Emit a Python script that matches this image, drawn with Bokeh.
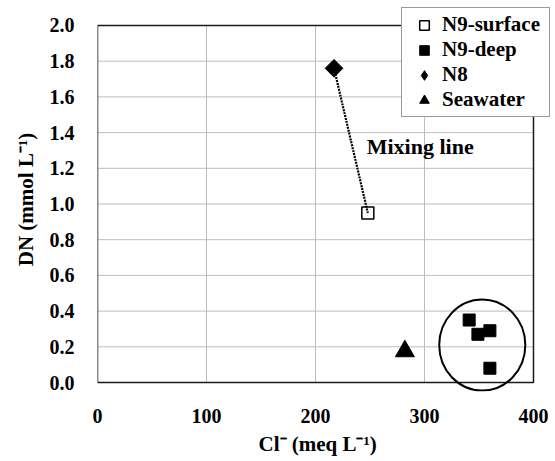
import math
from bokeh.plotting import figure
from bokeh.models import Range1d, FixedTicker, Legend, LegendItem, NumeralTickFormatter, Label, Title
from bokeh.embed import file_html
from bokeh.resources import INLINE

# ---- data ----
surface_cl = [248]
surface_dn = [0.95]
deep_cl = [341, 349, 360, 360]
deep_dn = [0.35, 0.27, 0.29, 0.08]
n8_cl = [217]
n8_dn = [1.76]
sea_cl = [282]
sea_dn = [0.175]
mix_cl = [217, 248]
mix_dn = [1.76, 0.95]
group_cl = [353]
group_dn = [0.21]
group_w = [79]
group_h = [0.51]
x_ticks = [0, 100, 200, 300, 400]
y_ticks = [0.0, 0.2, 0.4, 0.6, 0.8, 1.0, 1.2, 1.4, 1.6, 1.8, 2.0]
x_lim = (0, 400)
y_lim = (0.0, 2.0)
x_title = "Cl\u207b (meq L\u207b\u00b9)"
y_title = "DN (mmol L\u207b\u00b9)"

FONT = "Liberation Serif"

p = figure(width=553, height=460, output_backend="svg", toolbar_location=None,
           x_range=Range1d(0, 415.6), y_range=Range1d(-0.0504, 2.1008),
           min_border_left=97, min_border_right=3, min_border_top=7, min_border_bottom=69)
p.outline_line_color = None
p.grid.grid_line_color = None
p.background_fill_color = "white"
p.border_fill_color = "white"

# grid lines inside the box
hy = y_ticks[1:-1]
p.segment(x0=[x_lim[0]] * len(hy), x1=[x_lim[1]] * len(hy), y0=hy, y1=hy,
          line_color="#bdbdbd", line_width=1)
vx = x_ticks[1:-1]
p.segment(x0=vx, x1=vx, y0=[y_lim[0]] * len(vx), y1=[y_lim[1]] * len(vx),
          line_color="#bdbdbd", line_width=1)
# plot box
p.quad(left=[x_lim[0]], right=[x_lim[1]], bottom=[y_lim[0]], top=[y_lim[1]],
       fill_color=None, line_color="#1a1a1a", line_width=1.5)

# group circle
p.ellipse(x=group_cl, y=group_dn, width=group_w, height=group_h,
          fill_color=None, line_color="black", line_width=2)

r_surface = p.scatter(surface_cl, surface_dn, marker="square", size=12,
                      fill_color="white", line_color="black", line_width=1.5)
r_deep = p.scatter(deep_cl, deep_dn, marker="square", size=12,
                   fill_color="black", line_color="black")
# legend key for N8 (legend keys cannot be rotated); hidden under the rotated square
r_n8_key = p.scatter(n8_cl, n8_dn, marker="diamond", size=8,
                     fill_color="black", line_color="black")
p.scatter(n8_cl, n8_dn, marker="square", size=12.5, angle=math.pi / 4,
          fill_color="black", line_color="black")
r_sea = p.scatter(sea_cl, sea_dn, marker="triangle", size=19,
                  fill_color="black", line_color="black")
p.line(mix_cl, mix_dn, line_color="black", line_width=2.2, line_dash="2 1")

p.add_layout(Label(x=247, y=1.32, text="Mixing line", text_font=FONT,
                   text_font_style="bold", text_font_size="22px",
                   text_baseline="middle", text_color="black"))

legend = Legend(items=[
    LegendItem(label="N9-surface", renderers=[r_surface]),
    LegendItem(label="N9-deep", renderers=[r_deep]),
    LegendItem(label="N8", renderers=[r_n8_key]),
    LegendItem(label="Seawater", renderers=[r_sea]),
], location="top_right", margin=0, padding=4, spacing=0,
   glyph_width=36, glyph_height=24, label_standoff=-8, label_width=103, label_height=20,
   label_text_font=FONT, label_text_font_style="bold", label_text_font_size="21px",
   label_text_color="black",
   border_line_color="#333333", border_line_width=1,
   background_fill_color="white", background_fill_alpha=1.0)
p.add_layout(legend)

xa = p.xaxis[0]
xa.ticker = FixedTicker(ticks=x_ticks)
xa.major_label_standoff = 11

# x-axis title, placed under the plot box (the frame is wider than the box)
p.add_layout(Title(text=x_title, align="left", offset=161, standoff=8,
                   text_font=FONT, text_font_style="bold", text_font_size="21px",
                   text_color="black"), "below")

ya = p.yaxis[0]
ya.ticker = FixedTicker(ticks=y_ticks)
ya.formatter = NumeralTickFormatter(format="0.0")
ya.axis_label = y_title
ya.major_label_standoff = 17
ya.axis_label_standoff = 9

for ax in (xa, ya):
    ax.axis_line_color = None
    ax.major_tick_line_color = None
    ax.minor_tick_line_color = None
    ax.major_label_text_font = FONT
    ax.major_label_text_font_style = "bold"
    ax.major_label_text_font_size = "20px"
    ax.major_label_text_color = "black"
    ax.axis_label_text_font = FONT
    ax.axis_label_text_font_style = "bold"
    ax.axis_label_text_font_size = "21px"
    ax.axis_label_text_color = "black"

open("out.html", "w").write(file_html(p, INLINE))
